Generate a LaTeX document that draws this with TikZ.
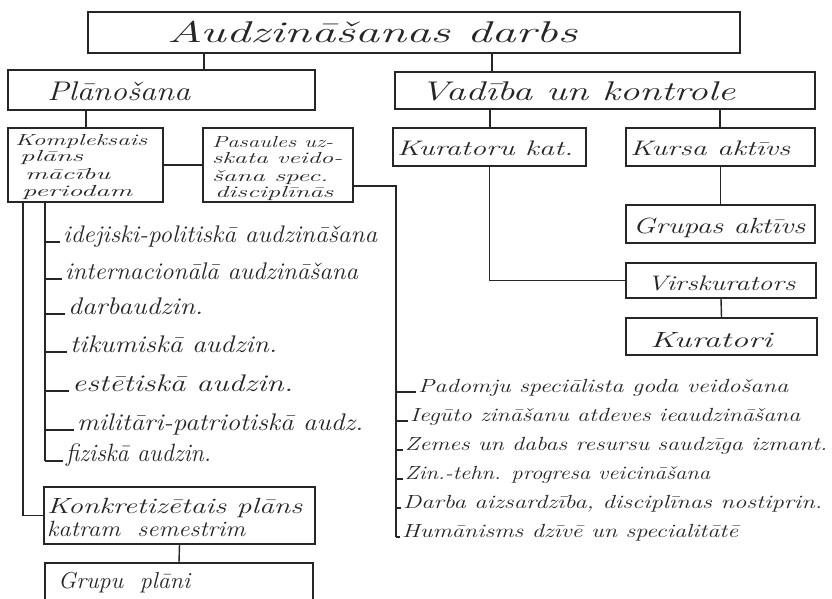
\documentclass[tikz,border=0pt]{standalone}
\usepackage{fontspec}
\usepackage{graphicx}
\definecolor{inkc}{HTML}{262626}
\definecolor{txtc}{HTML}{262626}
\newcommand\fitx[3][5]{\resizebox{#2}{\height}{\addfontfeature{LetterSpace=#1,FakeBold=1}#3}}
\tikzset{
  ink/.style={draw=inkc, line width=1.4pt},
  box/.style={ink, rectangle, inner sep=0pt},
  txt/.style={inner sep=0pt, anchor=base west, text=txtc},
  sz/.style={font=\fontsize{#1}{#1}\selectfont\itshape},
}
\begin{document}
\begin{tikzpicture}[x=1pt,y=-1pt]
\useasboundingbox (0,0) rectangle (832,599);
\fill[white] (0,0) rectangle (832,599);
\clip (0,0) rectangle (832,599);

% boxes
\node[box, minimum width=652, minimum height=41] (top) at (414,32.5) {};
\node[box, minimum width=307, minimum height=40] (plan) at (161.5,90) {};
\node[box, minimum width=420, minimum height=37] (vad) at (605,90.5) {};
\node[box, minimum width=155, minimum height=74] (komp) at (85.5,165) {};
\node[box, minimum width=150, minimum height=74] (pas) at (278,165) {};
\node[box, minimum width=193, minimum height=38] (kur) at (489.5,147) {};
\node[box, minimum width=189, minimum height=38] (kursa) at (720.5,147) {};
\node[box, minimum width=189, minimum height=38] (grupas) at (720.5,224) {};
\node[box, minimum width=190, minimum height=35] (virs) at (721,280.5) {};
\node[box, minimum width=191, minimum height=37] (kuratori) at (721.5,336.5) {};
\node[box, minimum width=271, minimum height=57] (konk) at (179.5,515.5) {};
\node[box, minimum width=268, minimum height=60] (grupu) at (179,593) {};

% box texts
\node[txt, sz=30] (ttop) at (167,43) {\fitx[28]{410pt}{Audzināšanas darbs}};
\node[txt, sz=27] (tplan) at (47,100) {\fitx[10]{143pt}{Plānošana}};
\node[txt, sz=27] (tvad) at (420,100) {\fitx[20]{315pt}{Vadība un kontrole}};
\node[txt, sz=16] (k1) at (15,146) {\fitx[18]{132pt}{Kompleksais}};
\node[txt, sz=16] (k2) at (20,161) {\fitx[20]{63pt}{plāns}};
\node[txt, sz=16] (k3) at (25,179) {\fitx[25]{85pt}{mācību}};
\node[txt, sz=16] (k4) at (22,196) {\fitx[20]{110pt}{periodam}};
\node[txt, sz=16] (p1) at (212,147) {\fitx[12]{121pt}{Pasaules uz-}};
\node[txt, sz=16] (p2) at (212,164) {\fitx[18]{130pt}{skata veido-}};
\node[txt, sz=16] (p3) at (212,181) {\fitx[18]{116pt}{šana spec.}};
\node[txt, sz=16] (p4) at (215,197) {\fitx[18]{118pt}{disciplīnās}};
\node[txt, sz=21] (tkur) at (397,155) {\fitx[20]{176pt}{Kuratoru kat.}};
\node[txt, sz=21] (tkursa) at (630,155) {\fitx[20]{160pt}{Kursa aktīvs}};
\node[txt, sz=22] (tgrupas) at (633,233) {\fitx[15]{172pt}{Grupas aktīvs}};
\node[txt, sz=21] (tvirs) at (647,290) {\fitx[16]{148pt}{Virskurators}};
\node[txt, sz=22] (tkuratori) at (650,347) {\fitx[24]{122pt}{Kuratori}};
\node[txt, sz=22] (c1) at (47,513) {\fitx[12]{255pt}{Konkretizētais plāns}};
\node[txt, sz=22] (c2) at (47,536) {\fitx[12]{198pt}{katram\ \ semestrim}};
\node[txt, sz=23] (tgrupu) at (58,588) {\fitx[14]{132pt}{Grupu\ \ plāni}};

% left list
\node[txt, sz=24] (l1) at (63,242) {\fitx[2]{314pt}{idejiski-politiskā audzināšana}};
\node[txt, sz=24] (l2) at (65,279) {\fitx[1]{293pt}{internacionālā audzināšana}};
\node[txt, sz=24] (l3) at (68,314) {\fitx[5]{135pt}{darbaudzin.}};
\node[txt, sz=24] (l4) at (70,352) {\fitx[3]{207pt}{tikumiskā audzin.}};
\node[txt, sz=24] (l5) at (72,391) {\fitx[10]{221pt}{estētiskā audzin.}};
\node[txt, sz=24] (l6) at (77,430) {\fitx[0]{286pt}{militāri-patriotiskā audz.}};
\node[txt, sz=25] (l7) at (66,461) {\fitx[3]{145pt}{fiziskā audzin.}};

% right list
\node[txt, sz=19] (r1) at (418,392) {\fitx[4]{370pt}{Padomju speciālista goda veidošana}};
\node[txt, sz=19] (r2) at (410,421) {\fitx[7]{390pt}{Iegūto zināšanu atdeves ieaudzināšana}};
\node[txt, sz=19] (r3) at (405,450) {\fitx[8]{422pt}{Zemes un dabas resursu saudzīga izmant.}};
\node[txt, sz=19] (r4) at (405,479) {\fitx[12]{305pt}{Zin.-tehn. progresa veicināšana}};
\node[txt, sz=19] (r5) at (403,508) {\fitx[7]{419pt}{Darba aizsardzība, disciplīnas nostiprin.}};
\node[txt, sz=19] (r6) at (402,537) {\fitx[9]{336pt}{Humānisms dzīvē un specialitātē}};

% connector x positions
\coordinate (xa) at (204,0);
\coordinate (xb) at (492,0);
\coordinate (xc) at (86,0);
\coordinate (xd) at (490,0);
\coordinate (xe) at (720,0);
\coordinate (lt) at (45,0);
\coordinate (lt2) at (23,0);
\coordinate (rt) at (396,0);

\draw[ink] (top.south -| xa) -- (plan.north -| xa);
\draw[ink] (top.south -| xb) -- (vad.north -| xb);
\draw[ink] (plan.south -| xc) -- (komp.north -| xc);
\draw[ink] (vad.south -| xd) -- (kur.north -| xd);
\draw[ink] (vad.south -| xe) -- (kursa.north -| xe);
\draw[ink] (komp.east) -- (pas.west);
\draw[ink] (kursa.south) -- (grupas.north);
\draw[ink] (kur.south) |- (virs.west);
\draw[ink] (virs.south) -- (kuratori.north);
\draw[ink] (konk.south) -- (grupu.north);
\draw[ink] (komp.south -| lt2) |- (konk.west);

% left trunk and ticks
\draw[ink] (komp.south -| lt) -- (lt |- l7.base west);
\foreach \i in {l1,l2,l3,l4,l5,l6,l7}
  \draw[ink] (lt |- \i.base west) -- ([xshift=-3pt]\i.base west);

% right trunk and ticks
\draw[ink] ([yshift=-21pt]pas.east) -| (rt |- r6.base west);
\foreach \i in {r1,r2,r3,r4,r5,r6}
  \draw[ink] (rt |- \i.base west) -- ([xshift=-2pt]\i.base west);
\end{tikzpicture}
\end{document}
